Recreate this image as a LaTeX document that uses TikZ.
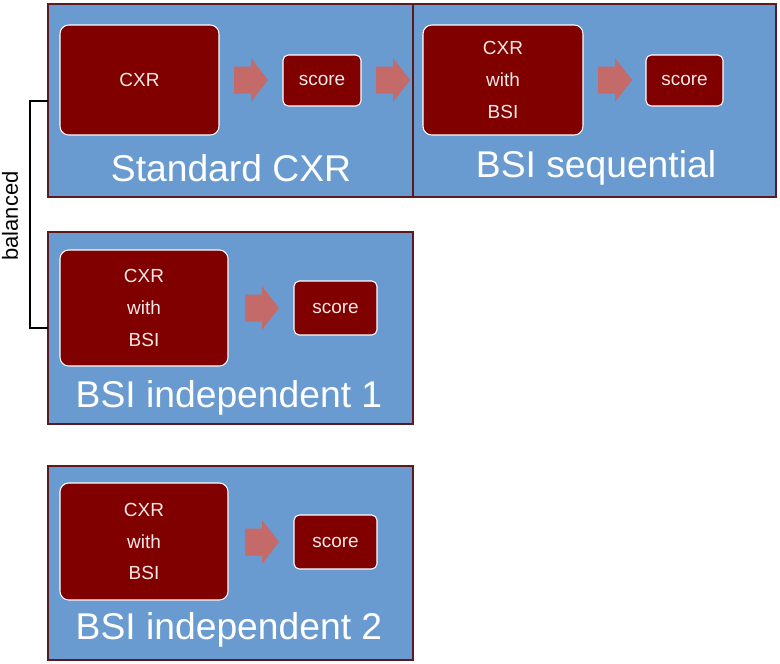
\documentclass[tikz,border=0pt]{standalone}
\usepackage{fontspec}
\setmainfont{Liberation Sans}
\usetikzlibrary{fit}
\definecolor{panelblue}{HTML}{6A9BD0}
\definecolor{paneledge}{HTML}{5A1A1E}
\definecolor{boxred}{HTML}{800000}
\definecolor{arrowred}{HTML}{C46A68}
\definecolor{boxtext}{HTML}{F6E8E8}
\tikzset{
  panel/.style={draw=paneledge, fill=panelblue, line width=0.8pt, inner sep=0pt},
  bigbox/.style={draw=white, fill=boxred, line width=0.6pt, rounded corners=5pt, inner sep=0pt},
  scorebox/.style={draw=white, fill=boxred, line width=0.6pt, rounded corners=3pt, inner sep=0pt},
  boxlabel/.style={text=boxtext, align=center, inner sep=0pt, font=\fontsize{10.8}{18}\selectfont},
  title/.style={text=white, font=\fontsize{21.2}{24}\selectfont, inner sep=0pt},
  bracket/.style={draw=black, line width=1.6pt},
  pics/fatarrow/.style={code={
    \fill[arrowred] (-17,-13.5) -- (0,-13.5) -- (0,-22) -- (17,0) -- (0,22) -- (0,13.5) -- (-17,13.5) -- cycle;
  }}
}
\begin{document}
\begin{tikzpicture}[x=0.02cm, y=-0.02cm]
\useasboundingbox (0,0) rectangle (780,663);
% panels
\node[panel, fit={(48,4) (413,197)}] (p1) {};
\node[panel, fit={(413,4) (776,197)}] (p2) {};
\node[panel, fit={(48,232) (413,424)}] (p3) {};
\node[panel, fit={(48,466) (413,660)}] (p4) {};
% Standard CXR
\node[bigbox, fit={(60,25) (219,135)}] (b1) {};
\node[boxlabel] (b1t) at (b1.center) {CXR};
\pic at (251,80) {fatarrow};
\node[scorebox, fit={(283,55) (361,106)}] (s1) {};
\node[boxlabel] (s1t) at (s1.center) {score};
\pic at (393,80) {fatarrow};
\node[title] (t1) at (231,168) {Standard CXR};
% BSI sequential
\node[bigbox, fit={(423,25) (583,135)}] (b2) {};
\node[boxlabel] (b2t) at (b2.center) {CXR\\with\\BSI};
\pic at (615,80) {fatarrow};
\node[scorebox, fit={(646,55) (723,106)}] (s2) {};
\node[boxlabel] (s2t) at (s2.center) {score};
\node[title] (t2) at (596,168) {BSI sequential};
% BSI independent 1
\node[bigbox, fit={(60,250) (228,366)}] (b3) {};
\node[boxlabel] (b3t) at (b3.center) {CXR\\with\\BSI};
\pic at (262,308) {fatarrow};
\node[scorebox, fit={(294,281) (377,335)}] (s3) {};
\node[boxlabel] (s3t) at (s3.center) {score};
\node[title] (t3) at (229,398) {BSI independent 1};
% BSI independent 2
\node[bigbox, fit={(60,483) (228,600)}] (b4) {};
\node[boxlabel] (b4t) at (b4.center) {CXR\\with\\BSI};
\pic at (262,542) {fatarrow};
\node[scorebox, fit={(294,515) (377,569)}] (s4) {};
\node[boxlabel] (s4t) at (s4.center) {score};
\node[title] (t4) at (229,630) {BSI independent 2};
% bracket
\coordinate (bk1) at (48,101);
\coordinate (bk2) at (48,328);
\draw[bracket] (bk1) -- (30,101) -- (30,328) -- (bk2);
\node[rotate=90, font=\fontsize{12.5}{14}\selectfont, inner sep=0pt] (bal) at (10,216) {balanced};
\end{tikzpicture}
\end{document}
